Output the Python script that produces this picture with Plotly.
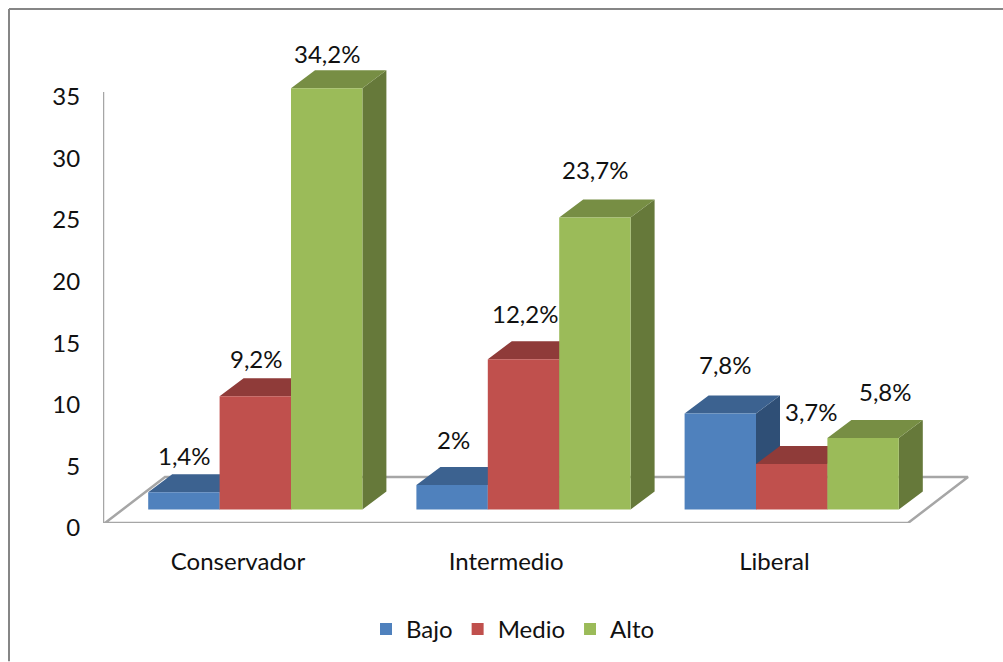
import plotly.graph_objects as go

# ---- data ----
categories = ["Conservador", "Intermedio", "Liberal"]
series_names = ["Bajo", "Medio", "Alto"]
bajo = [1.4, 2.0, 7.8]
medio = [9.2, 12.2, 3.7]
alto = [34.2, 23.7, 5.8]
bajo_labels = ["1,4%", "2%", "7,8%"]
medio_labels = ["9,2%", "12,2%", "3,7%"]
alto_labels = ["34,2%", "23,7%", "5,8%"]
y_ticks = [0, 5, 10, 15, 20, 25, 30, 35]

# ---- style / layout constants ----
W, H = 1003, 662
FONT = "Lato"
FS = 24
TXT = "#111111"
GRID = "#a6a6a6"
FRONT = ["#4f81bd", "#c0504d", "#9bbb59"]
TOP = ["#3c6290", "#8f3b39", "#778e44"]
SIDE = ["#2f4f76", "#773130", "#66793a"]

PX_LEFT, PX_RIGHT = 103, 975      # plot area, pixels
PX_ZERO, PX_UNIT = 523.5, 12.33   # y=0 pixel, pixels per unit
Y_MAX = 41.0
PX_TOP = PX_ZERO - Y_MAX * PX_UNIT
CAT_STEP = 268.2                  # pixels per category
CAT0 = 255.3                      # pixel of first category centre
BAR_W = 71.4 / CAT_STEP
BASE = 13.5 / PX_UNIT             # raised front plane of bars
DX, DY = 24 / CAT_STEP, 18 / PX_UNIT      # bar depth
FX, FY = 60 / CAT_STEP, 46 / PX_UNIT      # floor depth
X0 = (PX_LEFT - CAT0) / CAT_STEP
X1 = (PX_RIGHT - CAT0) / CAT_STEP
FLOOR_R = (908 - CAT0) / CAT_STEP
LABEL_SHIFT = -17.3 / CAT_STEP

# label offsets in pixels relative to bar-top centre: per series, per category
LABEL_DX = [[1, 1, 5], [1, 1, 20], [0, 0, 22]]
LABEL_DY = [[37, 45, 49], [38, 46, 52], [35, 48, 47]]

values = [bajo, medio, alto]
labels = [bajo_labels, medio_labels, alto_labels]

fig = go.Figure()

# floor and wall (lower layer)
fig.add_trace(go.Scatter(
    x=[X0 + 2 / CAT_STEP, X0 + 2 / CAT_STEP + FX, FLOOR_R + FX, FLOOR_R, X0, X0],
    y=[0, FY, FY, 0, 0, 35],
    mode="lines", line=dict(color=GRID, width=2.5), cliponaxis=False,
    showlegend=False, hoverinfo="skip", xaxis="x", yaxis="y"))

# depth faces, lower layer
for s, vals in enumerate(values):
    offset = (s - 1) * BAR_W
    tx, ty, sx, sy = [], [], [], []
    for c, v in enumerate(vals):
        xl = c + offset - BAR_W / 2
        xr = xl + BAR_W
        t = BASE + v
        sx += [xr, xr + DX, xr + DX, xr, None]
        sy += [BASE, BASE + DY, t + DY, t, None]
        tx += [xl, xl + DX, xr + DX, xr, None]
        ty += [t, t + DY, t + DY, t, None]
    fig.add_trace(go.Scatter(x=sx, y=sy, mode="lines", fill="toself", fillcolor=SIDE[s],
                             line=dict(width=0, color=SIDE[s]), showlegend=False,
                             hoverinfo="skip", xaxis="x", yaxis="y"))
    fig.add_trace(go.Scatter(x=tx, y=ty, mode="lines", fill="toself", fillcolor=TOP[s],
                             line=dict(width=0, color=TOP[s]), showlegend=False,
                             hoverinfo="skip", xaxis="x", yaxis="y"))

# front faces, overlaid layer
for s, vals in enumerate(values):
    fig.add_trace(go.Bar(x=list(range(len(categories))), y=vals, base=[BASE] * len(vals),
                         name=series_names[s], marker=dict(color=FRONT[s], line=dict(width=0)),
                         width=BAR_W, offset=(s - 1.5) * BAR_W,
                         xaxis="x", yaxis="y2"))

annotations = []
for s, vals in enumerate(values):
    offset = (s - 1) * BAR_W
    for c, v in enumerate(vals):
        annotations.append(dict(
            x=c + offset, y=BASE + v, xref="x", yref="y",
            text=labels[s][c], showarrow=False,
            xshift=LABEL_DX[s][c], yshift=LABEL_DY[s][c],
            font=dict(family=FONT, size=FS, color=TXT)))

def px_x(p):
    return (p - PX_LEFT) / (PX_RIGHT - PX_LEFT)

def px_y(p):
    return (PX_ZERO - p) / (PX_ZERO - PX_TOP)

frame = dict(type="line", xref="paper", yref="paper",
             line=dict(color="#868686", width=2), layer="below")
shapes = [
    dict(frame, x0=px_x(9), x1=px_x(9), y0=px_y(9), y1=px_y(H)),
    dict(frame, x0=px_x(9), x1=px_x(W), y0=px_y(9), y1=px_y(9)),
]

fig.update_layout(
    width=W, height=H, autosize=False,
    margin=dict(l=PX_LEFT, r=W - PX_RIGHT, t=PX_TOP, b=H - PX_ZERO, autoexpand=False),
    paper_bgcolor="white", plot_bgcolor="white",
    barmode="overlay",
    font=dict(family=FONT, size=FS, color=TXT),
    annotations=annotations, shapes=shapes,
    xaxis=dict(range=[X0, X1], showgrid=False, zeroline=False, showline=False,
               tickmode="array", tickvals=[c + LABEL_SHIFT for c in range(len(categories))],
               ticktext=categories, ticks="outside", ticklen=17, tickcolor="rgba(0,0,0,0)"),
    yaxis=dict(range=[0, Y_MAX], showgrid=False, zeroline=False, showline=False,
               tickmode="array", tickvals=y_ticks, ticks="outside", ticklen=17,
               tickcolor="rgba(0,0,0,0)", ticklabelshift=5),
    yaxis2=dict(range=[0, Y_MAX], overlaying="y", side="left", visible=False),
    legend=dict(orientation="h", x=px_x(513), xanchor="center", y=px_y(630), yanchor="middle",
                font=dict(family=FONT, size=FS, color=TXT), bgcolor="rgba(0,0,0,0)"),
)

fig.write_html("out.html", config={"displayModeBar": False},
               post_script="document.body.style.margin='0';document.documentElement.style.overflow='hidden';")
